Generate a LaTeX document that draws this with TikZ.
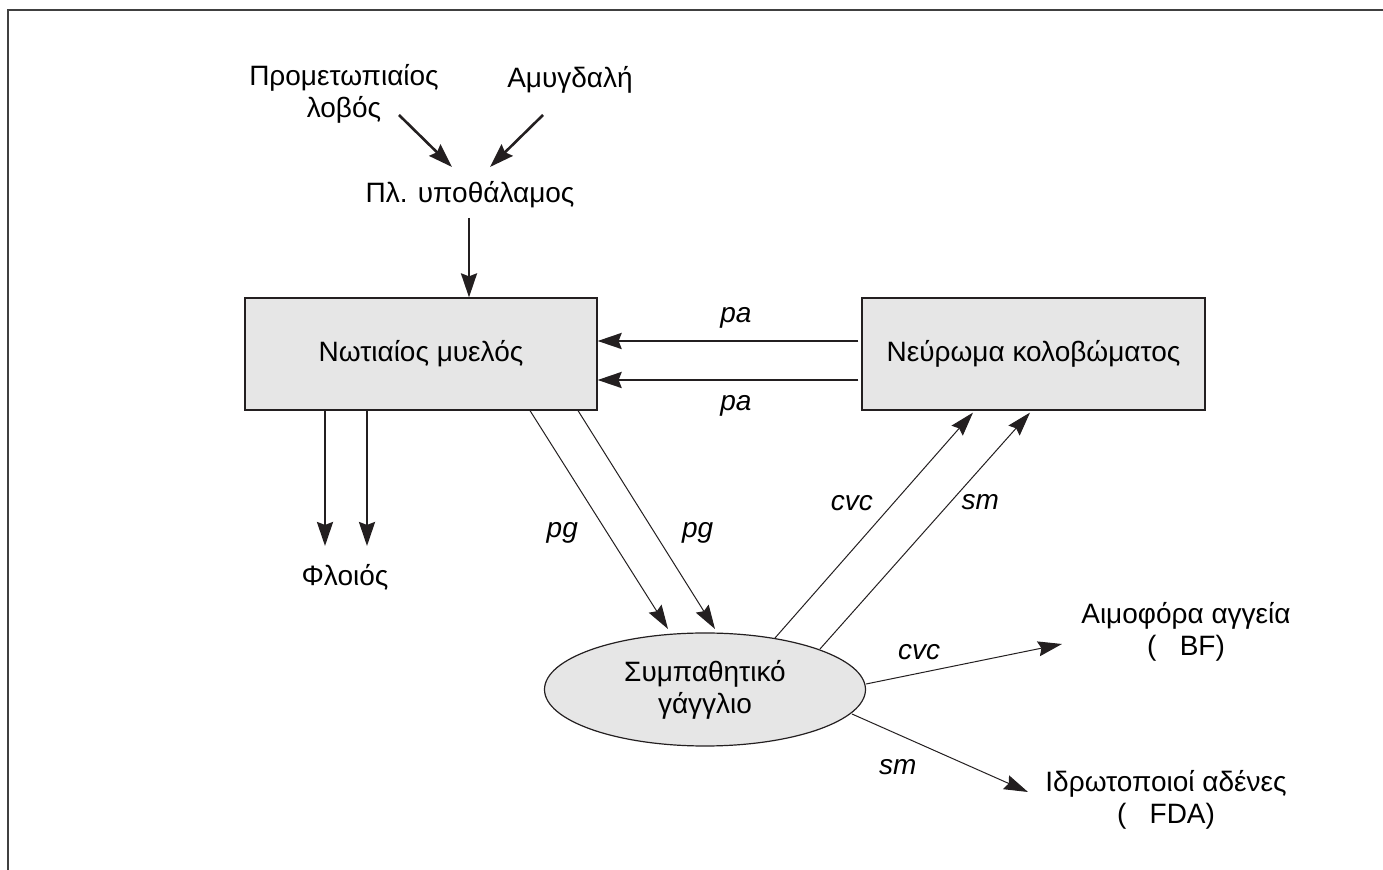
\documentclass[tikz,border=0pt]{standalone}
\usepackage{fontspec}
\setmainfont{Liberation Sans}
\usetikzlibrary{arrows.meta, shapes.geometric, calc}
\definecolor{boxfill}{RGB}{230, 230, 230}
\definecolor{ink}{RGB}{35, 31, 32}
\definecolor{framegray}{RGB}{64, 64, 64}

\begin{document}
\begin{tikzpicture}[x=0.5pt, y=-0.5pt,
  every node/.style={font=\fontsize{14}{16}\selectfont, text=black},
  organ/.style={draw=ink, line width=0.6pt, fill=boxfill, minimum height=56pt, inner sep=0pt},
  gangl/.style={ellipse, draw=ink, line width=0.6pt, fill=boxfill, minimum width=160.5pt, minimum height=56.5pt, inner sep=0pt, align=center},
  thickarr/.style={draw=ink, line width=1.3pt, -{Stealth[length=12pt, width=8pt, inset=1.5pt]}},
  thinarr/.style={draw=ink, line width=0.5pt, -{Stealth[length=12pt, width=7.5pt, inset=1.5pt]}},
  lbl/.style={font=\fontsize{14}{16}\selectfont\itshape}]
  \useasboundingbox (0,0) rectangle (1383,870);
  \draw[framegray, line width=1pt] (8,870) -- (8,10.5) -- (1383,10.5);

  \node[align=center] (pfl) at (344,94) {Προμετωπιαίος\\λοβός};
  \node (amyg) at (570,80) {Αμυγδαλή};
  \node (hyp) at (470,195) {Πλ. υποθάλαμος};
  \node[organ, minimum width=176pt] (spinal) at (421,354) {Νωτιαίος μυελός};
  \node[organ, minimum width=171.5pt] (neuroma) at (1033.5,354) {Νεύρωμα κολοβώματος};
  \node (cortex) at (345,577) {Φλοιός};
  \node[gangl] (gang) at (705,689.5) {Συμπαθητικό\\γάγγλιο};
  \node[align=center] (vessels) at (1186,632) {Αιμοφόρα αγγεία\\(\ \ \ BF)};
  \node[align=center] (glands) at (1166,800) {Ιδρωτοποιοί αδένες\\(\ \ \ FDA)};

  \draw[thickarr] ($(pfl)+(55,21)$) -- ($(hyp)+(-18,-28)$);
  \draw[thickarr] ($(amyg)+(-27,35)$) -- ($(hyp)+(20,-28)$);
  \draw[thickarr] ($(hyp)+(-1,23)$) -- ($(spinal.north)+(48,0)$);

  \draw[thickarr] ($(neuroma.west)+(-3,-13)$) -- node[lbl, pos=0.47, yshift=11.5pt] {pa} ($(spinal.east)+(0,-13)$);
  \draw[thickarr] ($(neuroma.west)+(-3,26)$) -- node[lbl, pos=0.47, yshift=-13pt] {pa} ($(spinal.east)+(0,26)$);

  \draw[thickarr] ($(spinal.south)+(-96,0)$) -- ($(cortex)+(-20,-31)$);
  \draw[thickarr] ($(spinal.south)+(-54,0)$) -- ($(cortex)+(22,-31)$);

  \draw[thinarr] ($(spinal.south)+(109,0)$) -- node[lbl, pos=0.56, xshift=-22.5pt] {pg} ($(gang)+(-37,-60.5)$);
  \draw[thinarr] ($(spinal.south)+(157,0)$) -- node[lbl, pos=0.56, xshift=21.5pt] {pg} ($(gang)+(10,-60.5)$);

  \draw[thinarr] ($(gang)+(70,-51.5)$) -- node[lbl, pos=0.6, xshift=-21pt] {cvc} ($(neuroma.south)+(-60.5,2)$);
  \draw[thinarr] ($(gang)+(115,-40.5)$) -- node[lbl, pos=0.62, xshift=15pt] {sm} ($(neuroma.south)+(-3.5,2)$);

  \draw[thinarr] ($(gang.east)+(0,-5.5)$) -- node[lbl, pos=0.27, yshift=10.5pt] {cvc} ($(vessels)+(-124,12)$);
  \draw[thinarr] ($(gang)+(147,24.5)$) -- node[lbl, pos=0.26, yshift=-16.5pt] {sm} ($(glands)+(-138,-8)$);
\end{tikzpicture}
\end{document}
